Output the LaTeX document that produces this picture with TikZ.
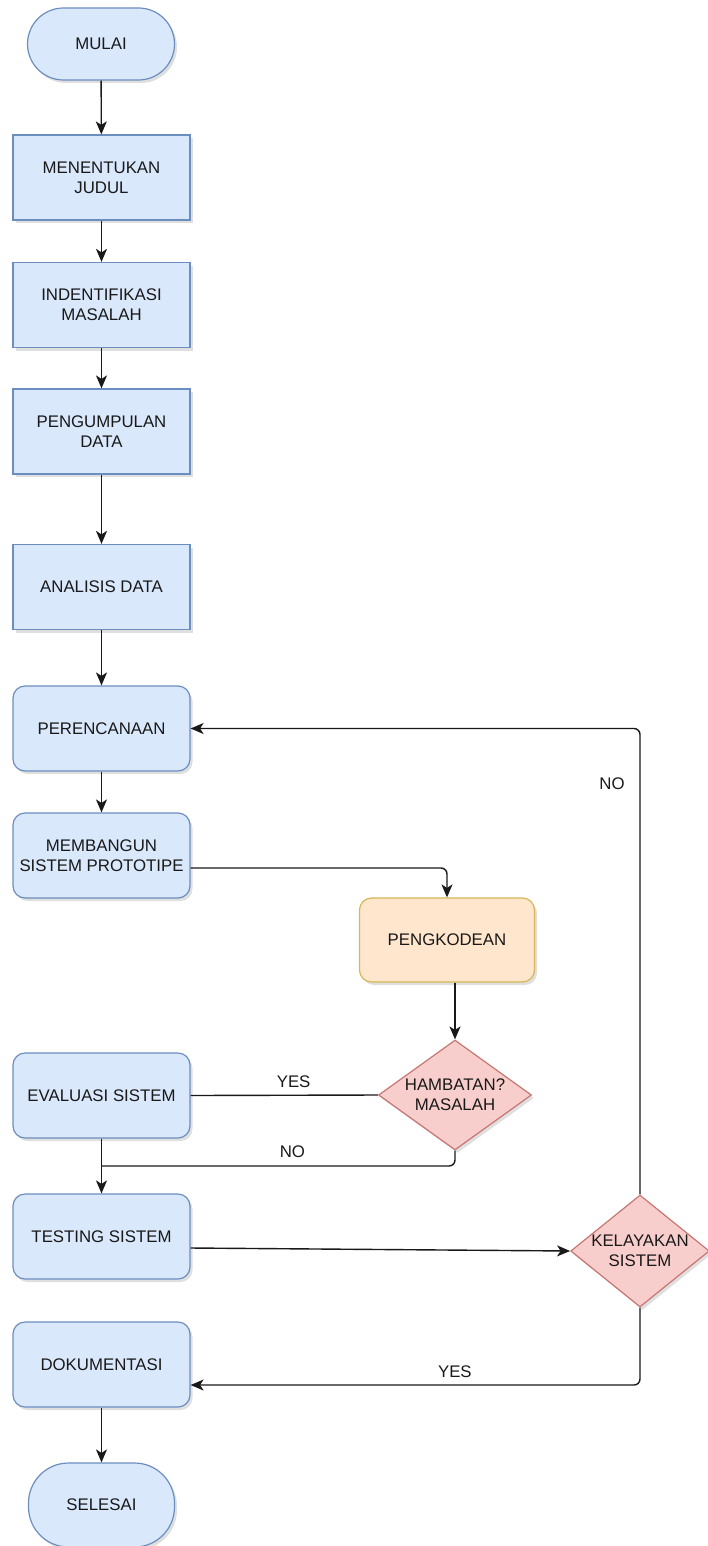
\documentclass[tikz,border=0pt]{standalone}
\usepackage{fontspec}
\setmainfont{Liberation Sans}
\usepackage{xcolor}
\usetikzlibrary{arrows.meta, shapes.geometric, shadows, calc}

\definecolor{blueFill}{HTML}{DAE8FC}
\definecolor{blueLine}{HTML}{6C8EBF}
\definecolor{orangeFill}{HTML}{FFE6CC}
\definecolor{orangeLine}{HTML}{D6B656}
\definecolor{redFill}{HTML}{F8CECC}
\definecolor{redLine}{HTML}{B85450}

\begin{document}
\begin{tikzpicture}[x=1pt, y=-1pt, >={Stealth[length=13pt, width=11pt, inset=3.5pt]},
    base/.style={draw, line width=1.2pt, align=center, text=black!90,
      font=\fontsize{16.8}{20}\selectfont, inner sep=0pt,
      drop shadow={shadow xshift=2.5pt, shadow yshift=-3pt, opacity=0.25}},
    terminal/.style={base, fill=blueFill, draw=blueLine, rounded corners=36pt,
      minimum width=147pt, minimum height=72pt},
    process/.style={base, fill=blueFill, draw=blueLine,
      minimum width=177pt, minimum height=85pt},
    rprocess/.style={process, rounded corners=12pt},
    coding/.style={base, fill=orangeFill, draw=orangeLine, rounded corners=12pt,
      minimum width=175pt, minimum height=84pt},
    decision/.style={base, fill=redFill, draw=redLine!80, diamond, aspect=1.3},
    flow/.style={line width=1.4pt, black!90},
    lbl/.style={font=\fontsize{16.8}{20}\selectfont, text=black!90}]
    \useasboundingbox (0,0) rectangle (708,1546);

    \node[terminal] (mulai) at (101, 44) {MULAI};
    \node[process] (judul) at (101.5, 177.5) {MENENTUKAN\\JUDUL};
    \node[process] (identifikasi) at (101.5, 305) {INDENTIFIKASI\\MASALAH};
    \node[process] (pengumpulan) at (101.5, 431.5) {PENGUMPULAN\\DATA};
    \node[process] (analisis) at (101.5, 587) {ANALISIS DATA};
    \node[rprocess] (perencanaan) at (101.5, 728.5) {PERENCANAAN};
    \node[rprocess] (membangun) at (101.5, 855.5) {MEMBANGUN\\SISTEM PROTOTIPE};
    \node[coding] (pengkodean) at (447, 940) {PENGKODEAN};
    \node[decision, minimum width=153pt, minimum height=110pt] (hambatan) at (455, 1095) {HAMBATAN?\\MASALAH};
    \node[rprocess] (evaluasi) at (101.5, 1095.5) {EVALUASI SISTEM};
    \node[rprocess] (testing) at (101.5, 1236.5) {TESTING SISTEM};
    \node[decision, minimum width=138pt, minimum height=112pt] (kelayakan) at (640, 1251) {KELAYAKAN\\SISTEM};
    \node[rprocess] (dokumentasi) at (101.5, 1364.5) {DOKUMENTASI};
    \node[terminal, rounded corners=40pt, minimum width=146pt, minimum height=84pt] (selesai) at (101.5, 1505) {SELESAI};

    % main column
    \draw[->, flow] (mulai) -- (judul);
    \draw[->, flow] (judul) -- (identifikasi);
    \draw[->, flow] (identifikasi) -- (pengumpulan);
    \draw[->, flow] (pengumpulan) -- (analisis);
    \draw[->, flow] (analisis) -- (perencanaan);
    \draw[->, flow] (perencanaan) -- (membangun);
    \draw[->, flow] (evaluasi) -- (testing);
    \draw[->, flow] (dokumentasi) -- (selesai);

    % prototype branch
    \draw[->, flow, rounded corners=6pt] ($(membangun.east)+(0,12.5)$) -| (pengkodean.north);
    \draw[->, flow] (hambatan.north |- pengkodean.south) -- (hambatan.north);
    \draw[flow] (hambatan.west) -- node[lbl, pos=0.45, above=4pt] {YES} (evaluasi.east);
    \draw[flow, rounded corners=6pt] (hambatan.south) |- (evaluasi.south |- 0,1166) node[lbl, pos=0.73, above=4pt] {NO};

    % feasibility check
    \draw[->, flow] ($(testing.east)+(0,11.5)$) -- (kelayakan.west);
    \draw[->, flow, rounded corners=6pt] (kelayakan.north) |- (perencanaan.east);
    \node[lbl] (labelNo) at (612, 784) {NO};
    \draw[->, flow, rounded corners=6pt] (kelayakan.south) |- ($(dokumentasi.east)+(0,20.5)$) node[lbl, pos=0.706, above=3pt] {YES};

  \end{tikzpicture}
\end{document}
